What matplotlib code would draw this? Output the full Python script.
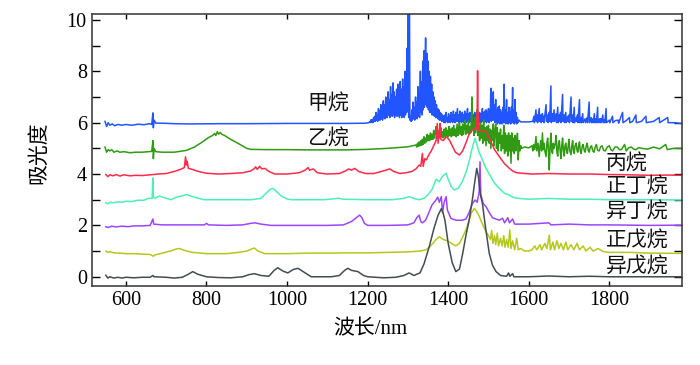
import numpy as np
import matplotlib
matplotlib.use('Agg')
import matplotlib.pyplot as plt
from matplotlib.ticker import MultipleLocator

plt.rcParams['font.family'] = ['Liberation Serif', 'Noto Sans CJK SC']

# --- spectra: (wavelength nm, absorbance incl. offset) ---
methane = [
    (548, 6.05), (552, 5.85), (556, 6.0), (560, 5.9), (566, 5.95), (572, 5.88), (580, 5.93),
    (590, 5.9), (600, 5.93), (615, 5.9), (630, 5.94), (645, 5.92), (658, 5.96), (664, 5.93),
    (667, 6.38), (668, 5.8), (670, 6.1), (674, 5.98), (690, 5.98), (720, 5.96), (760, 5.95),
    (830, 5.96), (900, 5.96), (1000, 5.97), (1080, 5.97), (1150, 5.97), (1195, 5.98), (1203, 6.0),
    # band 1206-1390
    (1206, 6.05), (1207, 6.0), (1209, 6.12), (1210, 6.02), (1212, 6.1), (1213, 6.0), (1215, 6.2),
    (1216, 6.05), (1218, 6.25), (1219, 6.05), (1221, 6.4), (1222, 6.1), (1224, 6.3), (1225, 6.05),
    (1227, 6.55), (1228, 6.1), (1230, 6.45), (1231, 6.1), (1233, 6.7), (1234, 6.15), (1236, 6.6),
    (1237, 6.1), (1239, 6.85), (1240, 6.2), (1242, 6.7), (1243, 6.15), (1245, 7.0), (1246, 6.2),
    (1248, 6.8), (1249, 6.2), (1251, 7.2), (1252, 6.3), (1254, 6.9), (1255, 6.2), (1257, 7.4),
    (1258, 6.3), (1260, 7.1), (1261, 6.25), (1263, 7.55), (1264, 6.3), (1266, 7.2), (1267, 6.2),
    (1269, 7.0), (1270, 6.3), (1272, 7.3), (1273, 6.25), (1275, 7.5), (1276, 6.3), (1278, 7.2),
    (1279, 6.2), (1281, 7.6), (1282, 6.3), (1284, 7.3), (1285, 6.2), (1287, 7.7), (1288, 6.3),
    (1290, 7.4), (1291, 6.2), (1293, 8.0), (1294, 6.3), (1296, 7.6), (1297, 6.4), (1298, 8.9),
    (1299, 6.5), (1300, 8.0), (1301, 10.3), (1302, 6.2), (1303, 10.3), (1304, 10.3), (1305, 6.1),
    (1307, 6.2), (1308, 6.05), (1310, 6.5), (1311, 6.1), (1313, 6.8), (1314, 6.15), (1316, 6.6),
    (1317, 6.1), (1319, 7.0), (1320, 6.2), (1322, 6.8), (1323, 6.15), (1325, 7.4), (1326, 6.25),
    (1328, 7.2), (1329, 6.2), (1331, 8.0), (1332, 6.4), (1334, 7.6), (1335, 6.3), (1337, 8.4),
    (1338, 6.5), (1340, 8.8), (1341, 6.6), (1343, 8.2), (1344, 9.3), (1345, 6.7), (1347, 8.7),
    (1348, 6.6), (1350, 8.4), (1351, 6.5), (1353, 8.0), (1354, 6.4), (1356, 7.8), (1357, 6.4),
    (1359, 7.5), (1360, 6.3), (1362, 7.2), (1363, 6.3), (1365, 7.0), (1366, 6.25), (1368, 6.85),
    (1369, 6.2), (1371, 6.7), (1372, 6.2), (1374, 6.55), (1375, 6.15), (1377, 6.5), (1378, 6.1),
    (1380, 6.4), (1381, 6.1), (1383, 6.35), (1384, 6.05), (1386, 6.3), (1387, 6.05), (1389, 6.25),
    (1390, 6.0),
    # 1390-1580
    (1392, 6.3), (1393, 6.0), (1395, 6.4), (1396, 6.05), (1398, 6.2), (1399, 6.0), (1401, 6.35),
    (1402, 6.05), (1404, 6.25), (1405, 6.0), (1407, 6.4), (1408, 6.05), (1410, 6.3), (1411, 6.0),
    (1413, 6.45), (1414, 6.05), (1416, 6.3), (1417, 6.0), (1419, 6.4), (1420, 6.05), (1423, 6.55),
    (1424, 6.05), (1426, 6.3), (1427, 6.0), (1429, 6.45), (1430, 6.05), (1432, 6.3), (1433, 6.0),
    (1435, 6.4), (1436, 6.05), (1438, 6.3), (1439, 6.0), (1441, 6.45), (1442, 6.05), (1444, 6.35),
    (1445, 6.0), (1448, 6.55), (1449, 6.05), (1451, 6.35), (1452, 6.0), (1454, 6.4), (1455, 6.05),
    (1457, 6.3), (1458, 6.0), (1460, 6.45), (1461, 6.05), (1463, 6.3), (1464, 6.0), (1466, 6.4),
    (1467, 6.05), (1469, 6.35), (1470, 6.0), (1472, 6.45), (1473, 6.05), (1475, 6.3), (1476, 6.0),
    (1478, 6.4), (1479, 6.05), (1481, 6.35), (1482, 6.0), (1485, 6.55), (1486, 6.05), (1488, 6.4),
    (1489, 6.0), (1491, 6.45), (1492, 6.05), (1494, 6.5), (1495, 6.0), (1497, 6.4), (1498, 6.05),
    (1500, 6.55), (1501, 6.0), (1503, 6.5), (1504, 6.1), (1506, 7.34), (1507, 6.05), (1509, 6.6),
    (1510, 6.1), (1512, 7.2), (1513, 6.1), (1515, 6.7), (1516, 6.0), (1518, 6.9), (1519, 6.05),
    (1521, 6.5), (1522, 5.95), (1524, 6.6), (1525, 6.0), (1527, 6.65), (1528, 5.95), (1530, 6.5),
    (1531, 6.0), (1533, 6.4), (1534, 5.95), (1536, 6.6), (1537, 6.0), (1539, 7.5), (1540, 6.0),
    (1542, 6.5), (1543, 5.95), (1545, 6.9), (1546, 6.0), (1548, 6.4), (1549, 5.95), (1551, 6.6),
    (1552, 6.0), (1554, 6.4), (1555, 5.95), (1557, 6.6), (1558, 6.0), (1560, 7.37), (1561, 6.0),
    (1563, 6.5), (1564, 5.95), (1566, 6.9), (1567, 6.0), (1569, 6.4), (1570, 5.95), (1572, 6.2),
    (1573, 6.0), (1576, 6.1), (1580, 6.03), (1600, 6.03), (1610, 6.05),
    # 1610-1980
    (1613, 6.25), (1614, 6.0), (1618, 6.5), (1619, 6.05), (1621, 6.3), (1622, 6.0), (1626, 6.55),
    (1627, 6.05), (1630, 6.3), (1631, 6.0), (1634, 6.35), (1635, 6.05), (1637, 6.25), (1638, 6.0),
    (1643, 6.7), (1644, 6.05), (1647, 6.3), (1648, 6.0), (1651, 6.4), (1652, 6.05), (1655, 7.43),
    (1656, 6.0), (1659, 6.35), (1660, 6.05), (1663, 6.5), (1664, 6.05), (1668, 6.35), (1669, 6.0),
    (1672, 6.6), (1673, 6.0), (1676, 6.3), (1677, 6.05), (1679, 6.4), (1680, 6.0), (1684, 7.1),
    (1685, 6.05), (1688, 6.3), (1689, 6.0), (1692, 6.4), (1693, 6.0), (1697, 6.25), (1698, 6.05),
    (1700, 6.3), (1701, 6.0), (1705, 7.0), (1706, 6.05), (1709, 6.3), (1710, 6.0), (1713, 6.6),
    (1714, 6.0), (1718, 6.2), (1719, 6.05), (1721, 6.3), (1722, 6.0), (1726, 6.9), (1727, 6.0),
    (1730, 6.2), (1731, 6.0), (1734, 6.35), (1735, 6.0), (1740, 6.15), (1741, 6.0), (1745, 6.2),
    (1746, 6.0), (1750, 6.8), (1751, 6.0), (1755, 6.2), (1756, 6.0), (1759, 6.15), (1760, 6.0),
    (1763, 6.35), (1764, 6.0), (1767, 6.15), (1768, 6.0), (1771, 6.6), (1772, 6.0), (1776, 6.15),
    (1777, 6.0), (1779, 6.15), (1780, 6.0), (1784, 6.3), (1785, 6.0), (1788, 6.1), (1789, 6.0),
    (1792, 6.55), (1793, 6.0), (1800, 6.1), (1801, 6.0), (1808, 6.25), (1809, 6.0), (1815, 6.08),
    (1822, 6.1), (1823, 5.98), (1833, 6.4), (1834, 6.0), (1842, 6.08), (1850, 6.2), (1851, 6.0),
    (1858, 6.05), (1866, 6.3), (1867, 6.0), (1880, 6.05), (1891, 6.25), (1892, 6.0), (1910, 6.05),
    (1924, 6.2), (1925, 6.0), (1945, 6.2), (1946, 6.0), (1960, 6.0), (1978, 5.97),
]

ethane = [
    (548, 5.05), (552, 4.85), (556, 4.95), (560, 4.9), (565, 4.95), (570, 4.85), (578, 4.9),
    (585, 4.85), (595, 4.87), (610, 4.83), (625, 4.85), (640, 4.85), (655, 4.87), (664, 4.88),
    (667, 5.3), (668, 4.6), (670, 5.0), (674, 4.87), (690, 4.85), (720, 4.85), (750, 4.92),
    (770, 5.05), (790, 5.25), (805, 5.42), (815, 5.5), (820, 5.58), (823, 5.5), (827, 5.65),
    (830, 5.55), (834, 5.62), (838, 5.55), (845, 5.5), (860, 5.35), (880, 5.18), (900, 5.0),
    (910, 4.96), (950, 4.95), (1000, 4.95), (1050, 4.94), (1100, 4.94), (1150, 4.94), (1200, 4.96),
    (1250, 5.0), (1300, 5.06),
    (1320, 5.13), (1322, 5.05), (1324, 5.2), (1326, 5.08), (1328, 5.25), (1330, 5.1), (1332, 5.3),
    (1334, 5.12), (1336, 5.35), (1338, 5.15), (1340, 5.45), (1342, 5.2), (1344, 5.4), (1346, 5.25),
    (1348, 5.55), (1350, 5.3), (1352, 5.5), (1354, 5.3), (1356, 5.6), (1358, 5.35), (1360, 5.55),
    (1362, 5.35), (1364, 5.7), (1366, 5.4), (1368, 5.6), (1370, 5.85), (1372, 5.4), (1374, 5.7),
    (1376, 5.45), (1378, 5.65), (1380, 5.4), (1382, 5.8), (1384, 5.45), (1386, 5.65), (1388, 5.4),
    (1390, 5.75), (1392, 5.45), (1394, 5.8), (1396, 5.5), (1398, 5.7), (1400, 5.45), (1402, 5.85),
    (1404, 5.5), (1406, 5.75), (1408, 5.45), (1410, 5.8), (1412, 5.5), (1414, 5.9), (1416, 5.5),
    (1418, 5.75), (1420, 5.45), (1422, 5.95), (1424, 5.5), (1426, 5.8), (1428, 6.0), (1430, 5.55),
    (1432, 5.85), (1434, 5.5), (1436, 5.95), (1438, 5.55), (1440, 5.8), (1442, 6.1), (1444, 5.55),
    (1446, 5.9), (1448, 5.6), (1450, 6.05), (1452, 5.55), (1454, 5.85), (1456, 5.6), (1458, 6.3),
    (1459, 7.0), (1460, 5.7), (1462, 6.0), (1464, 5.5), (1466, 6.2), (1468, 5.6), (1470, 6.0),
    (1472, 6.5), (1474, 5.5), (1476, 5.9), (1478, 5.3), (1480, 6.0), (1482, 5.4), (1484, 5.9),
    (1486, 5.2), (1488, 6.1), (1490, 5.3), (1492, 5.8), (1494, 5.1), (1496, 5.85), (1498, 5.3),
    (1500, 5.9), (1502, 5.2), (1504, 5.75), (1506, 5.0), (1508, 5.7), (1510, 5.3), (1512, 5.95),
    (1514, 5.1), (1516, 5.7), (1518, 5.95), (1520, 5.0), (1522, 5.8), (1524, 4.9), (1526, 5.6),
    (1528, 5.2), (1530, 5.75), (1532, 4.9), (1534, 5.5), (1536, 5.0), (1538, 5.9), (1540, 4.8),
    (1542, 5.6), (1544, 4.9), (1546, 5.5), (1548, 4.7), (1550, 5.6), (1552, 4.9), (1554, 5.5),
    (1556, 4.42), (1558, 5.6), (1560, 4.9), (1562, 5.4), (1564, 4.8), (1566, 5.5), (1568, 4.9),
    (1570, 5.3), (1572, 5.59), (1574, 4.55), (1576, 5.3), (1578, 4.9), (1580, 5.1), (1582, 5.0),
    (1590, 5.05), (1600, 5.02), (1608, 5.1), (1610, 4.9), (1612, 5.15), (1615, 4.95), (1618, 5.46),
    (1620, 4.9), (1623, 5.2), (1626, 4.68), (1628, 5.1), (1630, 5.3), (1632, 4.9), (1634, 5.6),
    (1636, 4.95), (1638, 5.2), (1640, 4.9), (1643, 4.68), (1645, 5.2), (1647, 5.4), (1649, 4.9),
    (1651, 4.16), (1653, 5.1), (1655, 5.59), (1657, 4.9), (1659, 4.8), (1661, 5.2), (1663, 5.0),
    (1666, 5.2), (1668, 5.5), (1670, 4.85), (1672, 4.7), (1674, 5.2), (1676, 5.3), (1678, 4.9),
    (1680, 4.6), (1682, 5.1), (1684, 5.4), (1686, 4.9), (1688, 4.7), (1690, 5.1), (1692, 5.2),
    (1694, 4.9), (1696, 4.8), (1698, 5.1), (1700, 5.35), (1702, 4.9), (1705, 4.75), (1707, 5.1),
    (1709, 5.3), (1711, 4.9), (1713, 4.8), (1715, 5.1), (1718, 5.2), (1720, 4.9), (1722, 4.85),
    (1724, 5.1), (1726, 5.25), (1728, 4.9), (1730, 4.8), (1733, 5.1), (1735, 5.15), (1738, 4.9),
    (1740, 4.85), (1743, 5.1), (1745, 5.2), (1748, 4.9), (1750, 4.85), (1753, 5.05), (1756, 5.1),
    (1759, 4.9), (1762, 4.85), (1765, 5.05), (1768, 5.15), (1771, 4.92), (1775, 4.9), (1778, 5.05),
    (1782, 5.1), (1786, 4.92), (1790, 4.9), (1795, 5.05), (1800, 5.1), (1804, 4.95), (1808, 4.9),
    (1814, 5.05), (1820, 5.05), (1825, 4.95), (1830, 4.95), (1838, 5.15), (1842, 4.9), (1848, 5.02),
    (1855, 5.05), (1860, 4.97), (1866, 4.95), (1873, 5.03), (1880, 5.0), (1895, 4.97), (1910, 5.05),
    (1925, 4.98), (1940, 5.15), (1944, 4.95), (1960, 5.0), (1978, 5.0),
]

propane = [
    (550, 3.98), (555, 3.9), (560, 3.97), (568, 3.93), (576, 3.98), (585, 3.92), (595, 3.97),
    (610, 3.93), (625, 3.95), (640, 3.94), (660, 3.97), (668, 3.98), (680, 4.0), (700, 4.02),
    (720, 4.1), (735, 4.18), (745, 4.25), (748, 4.67), (750, 4.35), (752, 4.5), (755, 4.22),
    (765, 4.18), (780, 4.1), (800, 4.03), (830, 4.0), (860, 4.02), (890, 4.05), (910, 4.12),
    (918, 4.2), (922, 4.28), (926, 4.18), (932, 4.3), (937, 4.2), (945, 4.22), (955, 4.1),
    (970, 4.0), (1000, 4.0), (1030, 4.05), (1045, 4.15), (1052, 4.25), (1056, 4.15), (1065, 4.2),
    (1075, 4.05), (1100, 4.0), (1130, 4.02), (1145, 4.12), (1153, 4.2), (1160, 4.15), (1168, 4.22),
    (1178, 4.1), (1195, 4.02), (1215, 4.02), (1230, 4.08), (1245, 4.15), (1255, 4.2), (1265, 4.1),
    (1280, 4.02), (1295, 4.05), (1310, 4.1), (1320, 4.2), (1328, 4.35), (1332, 4.3), (1336, 4.8),
    (1338, 4.3), (1342, 4.6), (1346, 4.55), (1352, 4.75), (1358, 4.9), (1364, 5.1), (1370, 5.3),
    (1373, 5.97), (1375, 5.2), (1378, 5.6), (1380, 5.97), (1382, 5.35), (1388, 5.3), (1395, 5.45),
    (1403, 5.33), (1410, 5.1), (1418, 4.85), (1428, 4.74), (1436, 4.9), (1445, 5.25), (1452, 5.55),
    (1460, 5.72), (1466, 5.78), (1470, 5.75), (1472, 6.5), (1473, 8.02), (1474, 6.5), (1476, 5.7),
    (1482, 5.65), (1490, 5.68), (1496, 5.6), (1505, 5.3), (1515, 4.95), (1527, 4.68), (1540, 4.4),
    (1552, 4.22), (1560, 4.12), (1570, 4.05), (1590, 4.02), (1610, 4.0), (1650, 4.02), (1700, 4.0),
    (1750, 4.0), (1800, 3.98), (1850, 3.97), (1900, 3.95), (1950, 3.96), (1978, 3.95),
]

n_butane = [
    (550, 2.88), (555, 2.84), (560, 2.9), (570, 2.88), (580, 2.92), (590, 2.9), (600, 2.94),
    (615, 2.93), (630, 2.98), (645, 2.98), (655, 3.05), (665, 3.05), (667, 3.85), (668, 3.1),
    (672, 3.05), (683, 3.15), (695, 3.08), (712, 3.0), (725, 3.1), (740, 3.15), (750, 3.2),
    (760, 3.15), (775, 3.08), (794, 3.0), (830, 3.0), (870, 3.0), (910, 3.0), (935, 3.05),
    (948, 3.25), (958, 3.4), (965, 3.44), (972, 3.35), (985, 3.15), (1000, 3.03), (1010, 3.0),
    (1050, 3.0), (1090, 3.0), (1115, 3.03), (1126, 3.06), (1140, 3.02), (1200, 3.0), (1260, 3.0),
    (1290, 3.05), (1303, 3.12), (1315, 3.05), (1328, 3.0), (1340, 3.05), (1350, 3.2), (1360, 3.4),
    (1370, 3.8), (1378, 3.7), (1385, 3.9), (1395, 4.03), (1400, 3.8), (1408, 3.5), (1415, 3.38),
    (1425, 3.45), (1435, 3.7), (1445, 4.1), (1452, 4.5), (1458, 4.9), (1463, 5.2), (1467, 5.39),
    (1472, 5.1), (1478, 4.8), (1485, 4.55), (1493, 4.25), (1502, 4.0), (1515, 3.65), (1527, 3.44),
    (1540, 3.25), (1552, 3.18), (1560, 3.1), (1575, 3.05), (1600, 3.02), (1650, 3.05), (1700, 3.02),
    (1750, 3.02), (1800, 3.0), (1900, 3.0), (1978, 2.99),
]

isobutane = [
    (550, 1.95), (556, 1.92), (565, 1.97), (575, 1.94), (590, 1.97), (605, 1.95), (620, 1.98),
    (640, 1.98), (660, 2.0), (667, 2.25), (669, 2.05), (690, 2.02), (750, 2.02), (795, 2.02),
    (800, 2.08), (805, 2.02), (850, 2.0), (890, 2.02), (910, 2.08), (920, 2.1), (935, 2.05),
    (960, 2.0), (1000, 2.0), (1050, 2.0), (1100, 2.0), (1140, 2.02), (1160, 2.15), (1172, 2.3),
    (1180, 2.4), (1186, 2.3), (1192, 2.08), (1200, 2.0), (1250, 2.0), (1300, 2.02), (1315, 2.1),
    (1322, 2.3), (1328, 2.4), (1332, 2.15), (1336, 2.1), (1344, 2.2), (1352, 2.5), (1360, 2.8),
    (1368, 2.95), (1374, 3.1), (1378, 2.9), (1383, 3.12), (1386, 2.5), (1390, 2.9), (1395, 3.12),
    (1398, 2.6), (1407, 2.27), (1420, 2.2), (1435, 2.2), (1444, 2.25), (1452, 2.5), (1460, 2.85),
    (1467, 2.99), (1472, 2.9), (1477, 3.3), (1479, 4.48), (1481, 3.2), (1487, 2.85), (1494, 2.73),
    (1502, 2.5), (1510, 2.3), (1527, 2.2), (1535, 2.28), (1540, 2.1), (1548, 2.3), (1552, 2.1),
    (1560, 2.25), (1565, 2.05), (1600, 2.05), (1650, 2.1), (1655, 2.02), (1700, 2.05), (1750, 2.02),
    (1800, 2.02), (1900, 2.0), (1978, 2.01),
]

n_pentane = [
    (550, 1.0), (555, 0.95), (560, 0.98), (570, 0.93), (585, 0.92), (600, 0.9), (620, 0.9),
    (640, 0.88), (660, 0.87), (668, 0.8), (672, 0.85), (690, 0.92), (710, 1.0), (725, 1.08),
    (733, 1.1), (745, 1.03), (765, 0.95), (800, 0.9), (850, 0.9), (880, 0.95), (900, 1.0),
    (912, 1.08), (919, 1.12), (928, 1.0), (945, 0.9), (1000, 0.9), (1050, 0.92), (1100, 0.92),
    (1150, 0.93), (1200, 0.93), (1250, 0.95), (1300, 0.97), (1330, 1.0), (1345, 1.05), (1353, 1.15),
    (1362, 1.3), (1370, 1.45), (1378, 1.56), (1388, 1.45), (1398, 1.4), (1408, 1.3), (1419, 1.2),
    (1428, 1.3), (1436, 1.55), (1444, 1.82), (1452, 2.2), (1458, 2.5), (1465, 2.66), (1470, 2.55),
    (1476, 2.4), (1481, 2.2), (1488, 1.95), (1494, 1.75), (1500, 1.6), (1505, 1.45), (1508, 1.8),
    (1511, 1.3), (1515, 1.6), (1518, 1.25), (1522, 1.7), (1525, 1.2), (1530, 1.5), (1534, 1.2),
    (1538, 1.6), (1541, 1.15), (1545, 1.45), (1549, 1.15), (1553, 1.82), (1556, 1.1), (1560, 1.4),
    (1565, 1.05), (1570, 1.5), (1574, 1.05), (1580, 1.1), (1590, 1.0), (1600, 1.0), (1608, 1.05),
    (1615, 1.2), (1620, 1.05), (1628, 1.25), (1632, 1.05), (1640, 1.3), (1645, 1.1), (1651, 1.62),
    (1654, 1.05), (1660, 1.35), (1664, 1.05), (1670, 1.4), (1675, 1.1), (1680, 1.3), (1686, 1.05),
    (1692, 1.35), (1697, 1.05), (1705, 1.25), (1712, 1.05), (1720, 1.3), (1726, 1.05), (1735, 1.2),
    (1742, 1.0), (1752, 1.15), (1760, 1.0), (1772, 1.1), (1785, 0.98), (1800, 0.95), (1850, 0.95),
    (1900, 0.92), (1978, 0.91),
]

isopentane = [
    (550, 0.06), (555, -0.05), (560, 0.0), (570, -0.05), (580, -0.02), (590, -0.05), (600, -0.02),
    (620, -0.04), (640, -0.02), (660, -0.02), (667, 0.05), (670, 0.0), (700, -0.02), (720, -0.05),
    (740, -0.02), (755, 0.1), (766, 0.2), (778, 0.1), (800, 0.0), (830, -0.03), (860, -0.04),
    (890, 0.0), (905, 0.08), (919, 0.12), (935, 0.05), (955, 0.02), (968, 0.25), (977, 0.35),
    (990, 0.22), (1002, 0.15), (1015, 0.28), (1027, 0.33), (1040, 0.2), (1060, 0.0), (1090, 0.0),
    (1110, 0.0), (1130, 0.05), (1143, 0.25), (1151, 0.33), (1160, 0.25), (1176, 0.2), (1190, 0.05),
    (1200, 0.0), (1240, -0.04), (1270, -0.02), (1290, 0.05), (1303, 0.15), (1315, 0.05), (1330, 0.15),
    (1340, 0.5), (1353, 1.17), (1365, 1.9), (1375, 2.4), (1383, 2.65), (1387, 2.5), (1392, 2.2),
    (1400, 1.3), (1410, 0.55), (1419, 0.2), (1428, 0.3), (1436, 0.9), (1444, 1.6), (1452, 2.2),
    (1460, 3.0), (1466, 3.7), (1471, 4.22), (1475, 3.9), (1480, 3.2), (1485, 2.86), (1492, 2.0),
    (1502, 0.91), (1510, 0.45), (1519, 0.2), (1530, 0.05), (1545, 0.02), (1550, 0.15), (1553, 0.02),
    (1560, 0.12), (1563, 0.0), (1600, 0.0), (1650, 0.03), (1700, 0.0), (1750, 0.02), (1800, 0.0),
    (1900, 0.0), (1978, 0.0),
]

series = [methane, ethane, propane, n_butane, isobutane, n_pentane, isopentane]
colors = ['#2255ff', '#2f9a12', '#ff2a4a', '#4cf0b4', '#9c45ff', '#b4c81e', '#444c54']

names = ['甲烷', '乙烷', '丙烷', '正丁烷', '异丁烷', '正戊烷', '异戊烷']
name_x = [1050, 1050, 1792, 1792, 1792, 1792, 1792]
name_y = [6.69, 5.33, 4.35, 3.46, 2.48, 1.35, 0.34]


fig = plt.figure(figsize=(7, 3.65), dpi=100)
ax = fig.add_axes([0.131, 0.2164, 0.843, 0.7452])

for s, c in zip(series, colors):
    d = np.array(s)
    ax.plot(d[:, 0], d[:, 1], color=c, lw=1.1)

for t, x, y in zip(names, name_x, name_y):
    ax.text(x, y, t, fontsize=15, va='center', ha='left', color='#111111')

ax.set_xlim(515, 1980)
ax.set_ylim(-0.36, 10.23)
ax.set_xticks([600, 800, 1000, 1200, 1400, 1600, 1800])
ax.yaxis.set_major_locator(MultipleLocator(2))
ax.yaxis.set_minor_locator(MultipleLocator(1))
ax.tick_params(axis='x', direction='in', top=True, length=3.5, width=1, labelsize=14.5)
ax.tick_params(axis='y', which='both', direction='in', right=True, length=6, width=1, labelsize=14.5)
for sp in ax.spines.values():
    sp.set_color('#333333')
    sp.set_linewidth(1.1)

fig.text(370 / 700, 1 - 330 / 365, '波长/nm', ha='center', va='center', fontsize=15)
fig.text(40 / 700, 1 - 153 / 365, '吸光度', ha='center', va='center', rotation=90, fontsize=15)

plt.savefig('out.png', dpi=100)
